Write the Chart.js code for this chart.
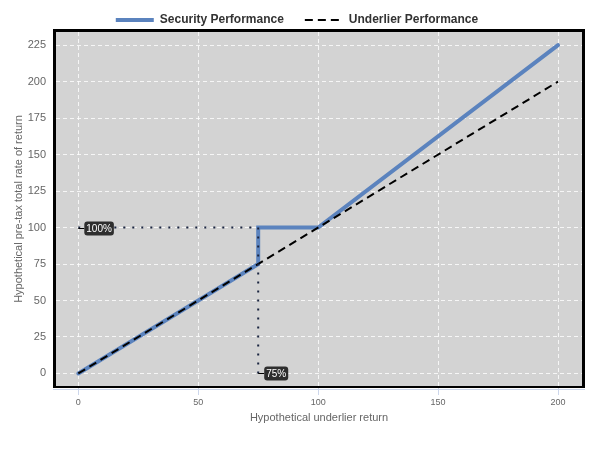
<!DOCTYPE html>
<html>
<head>
<meta charset="utf-8">
<script src="https://cdn.jsdelivr.net/npm/chart.js@4/dist/chart.umd.min.js"></script>
<style>
  html, body { margin: 0; padding: 0; background: #fff; }
  #chart { display: block; }
</style>
</head>
<body>
<canvas id="chart" width="600" height="450"></canvas>
<script>
// données du graphique
const securityX = [0, 75, 75, 100, 200];
const securityY = [0, 75, 100, 100, 225];
const underlierX = [0, 200];
const underlierY = [0, 200];
const refHX = [0, 75];
const refHY = [100, 100];
const refVX = [75, 75];
const refVY = [0, 100];
const calloutX = [0, 75];
const calloutY = [100, 0];
const calloutText = ['100%', '75%'];
const xTicks = [0, 50, 100, 150, 200];
const yTicks = [0, 25, 50, 75, 100, 125, 150, 175, 200, 225];

const BLUE = '#5b83be';
const FONT = '"Liberation Sans", Arial, sans-serif';

function toPoints(xs, ys) {
    return xs.map((x, i) => ({ x: x, y: ys[i] }));
}

// fond gris, cadre noir, ligne d'axe et étiquettes
const plotFrame = {
    id: 'plotFrame',
    beforeDraw(chart) {
        const { ctx, chartArea: a } = chart;
        ctx.save();
        ctx.fillStyle = '#d3d3d3';
        ctx.fillRect(a.left, a.top, a.right - a.left, a.bottom - a.top);
        ctx.restore();
    },
    afterDatasetsDraw(chart) {
        const { ctx, chartArea: a, scales } = chart;
        ctx.save();
        ctx.fillStyle = '#000';
        ctx.fillRect(a.left - 3, a.top - 3, a.right - a.left + 6, 3);
        ctx.fillRect(a.left - 3, a.top, 3, a.bottom - a.top + 2);
        ctx.fillRect(a.right, a.top, 3, a.bottom - a.top + 2);
        ctx.fillRect(a.left - 3, a.bottom, a.right - a.left + 6, 2);
        ctx.fillStyle = '#ccd6eb';
        ctx.fillRect(a.left - 3, a.bottom + 3, a.right - a.left + 6, 1);

        // étiquettes 100% / 75%
        ctx.font = '10px ' + FONT;
        ctx.textBaseline = 'middle';
        ctx.textAlign = 'left';
        calloutText.forEach((txt, i) => {
            const px = scales.x.getPixelForValue(calloutX[i]);
            const py = Math.round(scales.y.getPixelForValue(calloutY[i])) + 0.5;
            const bx = px + 6;
            const w = ctx.measureText(txt).width + 4;
            const h = 14;
            ctx.strokeStyle = '#000';
            ctx.lineWidth = 1;
            ctx.beginPath();
            ctx.moveTo(px, py);
            ctx.lineTo(bx, py);
            ctx.stroke();
            ctx.fillStyle = '#2e2e2e';
            ctx.beginPath();
            ctx.roundRect(bx, py - h / 2, w, h, 3);
            ctx.fill();
            ctx.fillStyle = '#fff';
            ctx.fillText(txt, bx + 2, py + 0.5);
        });
        ctx.restore();
    }
};

const ctx = document.getElementById('chart').getContext('2d');
new Chart(ctx, {
    type: 'line',
    data: {
        datasets: [
            {
                label: 'Security Performance',
                data: toPoints(securityX, securityY),
                borderColor: BLUE,
                borderWidth: 4,
                borderCapStyle: 'round',
                borderJoinStyle: 'miter',
                pointRadius: 0,
                fill: false,
                order: 3
            },
            {
                label: 'Underlier Performance',
                data: toPoints(underlierX, underlierY),
                borderColor: '#000',
                borderWidth: 2,
                borderDash: [8, 5],
                pointRadius: 0,
                fill: false,
                order: 2
            },
            {
                label: 'refH',
                data: toPoints(refHX, refHY),
                borderColor: '#1a2540',
                borderWidth: 2,
                borderDash: [2, 7],
                pointRadius: 0,
                fill: false,
                order: 1
            },
            {
                label: 'refV',
                data: toPoints(refVX, refVY),
                borderColor: '#1a2540',
                borderWidth: 2,
                borderDash: [2, 7],
                pointRadius: 0,
                fill: false,
                order: 1
            }
        ]
    },
    options: {
        responsive: false,
        animation: false,
        layout: { padding: { top: -7, left: 12, right: 18, bottom: 25 } },
        plugins: {
            tooltip: { enabled: false },
            legend: {
                position: 'top',
                maxHeight: 39,
                labels: {
                    padding: 21,
                    usePointStyle: true,
                    pointStyleWidth: 38,
                    color: '#333',
                    font: { family: FONT, size: 12, weight: 'bold' },
                    generateLabels: () => [
                        { text: 'Security Performance', strokeStyle: BLUE, fillStyle: BLUE, lineWidth: 4, lineDash: [], pointStyle: 'line', fontColor: '#333', datasetIndex: 0 },
                        { text: 'Underlier Performance', strokeStyle: '#000', fillStyle: '#000', lineWidth: 2, lineDash: [8, 5], pointStyle: 'line', fontColor: '#333', datasetIndex: 1 }
                    ]
                }
            }
        },
        scales: {
            x: {
                type: 'linear',
                min: -9.3,
                max: 210,
                afterBuildTicks: (scale) => { scale.ticks = xTicks.map(v => ({ value: v })); },
                afterFit: (scale) => { scale.height = 39; },
                border: { display: false, dash: [4, 3] },
                grid: {
                    color: 'rgba(255,255,255,0.8)',
                    tickLength: 9,
                    tickColor: '#ccd6eb',
                    tickBorderDash: []
                },
                ticks: { padding: 2, color: '#666', font: { family: FONT, size: 9 } },
                title: {
                    display: true,
                    text: 'Hypothetical underlier return',
                    color: '#666',
                    padding: 0,
                    font: { family: FONT, size: 11 }
                }
            },
            y: {
                type: 'linear',
                min: -8.6,
                max: 234,
                afterBuildTicks: (scale) => { scale.ticks = yTicks.map(v => ({ value: v })); },
                afterFit: (scale) => { scale.width = 44; },
                border: { display: false, dash: [4, 3] },
                grid: {
                    color: 'rgba(255,255,255,0.8)',
                    drawTicks: false
                },
                ticks: { padding: 10, color: '#666', font: { family: FONT, size: 11 } },
                title: {
                    display: true,
                    text: 'Hypothetical pre-tax total rate of return',
                    color: '#666',
                    padding: 0,
                    font: { family: FONT, size: 11 }
                }
            }
        }
    },
    plugins: [plotFrame]
});
</script>
</body>
</html>
